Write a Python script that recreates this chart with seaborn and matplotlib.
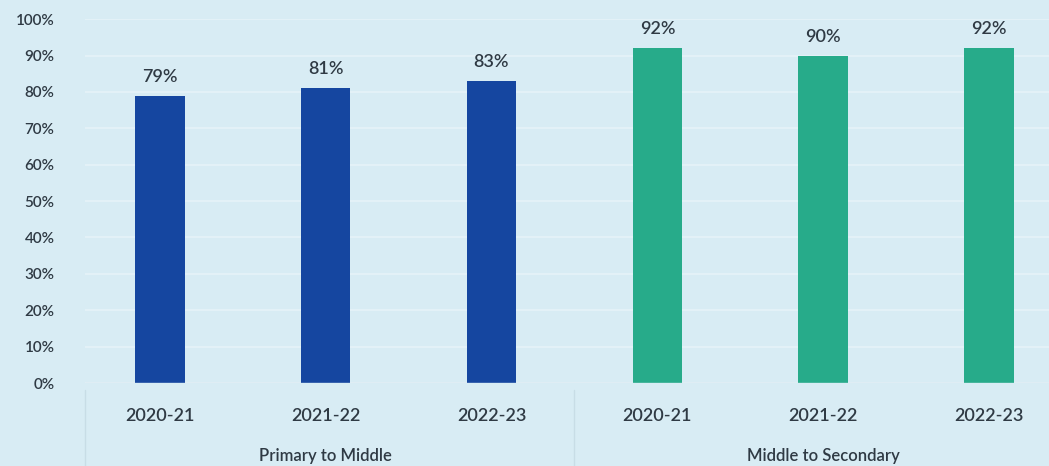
import seaborn as sns
import pandas as pd
import matplotlib.pyplot as plt
import matplotlib.transforms as mtransforms

years = ['2020-21', '2021-22', '2022-23']
groups = ['Primary to Middle', 'Middle to Secondary']
primary_to_middle = [79, 81, 83]
middle_to_secondary = [92, 90, 92]
y_ticks = [0, 10, 20, 30, 40, 50, 60, 70, 80, 90, 100]

bg = '#d8ecf4'
text_color = '#2f3a44'
colors = {'Primary to Middle': '#1546a0', 'Middle to Secondary': '#27ab8a'}

df = pd.DataFrame({
    'group': [groups[0]] * 3 + [groups[1]] * 3,
    'year': years * 2,
    'value': primary_to_middle + middle_to_secondary,
})
df['slot'] = df['group'] + ' ' + df['year']

sns.set_style('white')
plt.rcParams['font.family'] = ['Lato', 'DejaVu Sans']

fig = plt.figure(figsize=(10.49, 4.66), dpi=100, facecolor=bg)
ax = fig.add_axes([0.081, 0.178, 0.919, 0.781])
ax.set_facecolor(bg)

sns.barplot(data=df, x='slot', y='value', hue='group', palette=colors,
            dodge=False, width=0.3, legend=False, ax=ax, order=list(df['slot']),
            saturation=1, linewidth=0)

ax.set_ylim(0, 100)
ax.set_xlim(-0.45, 5.36)
ax.set_yticks(y_ticks)
ax.set_yticklabels([f'{t}%' for t in y_ticks], fontsize=11, color=text_color,
                   fontweight='semibold')
ax.set_xticks(range(len(df)))
ax.set_xticklabels(df['year'], fontsize=13, color=text_color, fontweight='semibold')
ax.tick_params(axis='x', length=0, pad=18)
ax.tick_params(axis='y', length=0, pad=22)
ax.set_xlabel('')
ax.set_ylabel('')
ax.set_axisbelow(True)
ax.grid(axis='y', color='#e6f3f8', linewidth=1.2)
for s in ax.spines.values():
    s.set_visible(False)
ax.axhline(0, color='#cfe0e8', linewidth=1)

# value labels
for i, v in enumerate(df['value']):
    ax.text(i, v + 3, f'{v}%', ha='center', va='bottom', fontsize=13,
            color=text_color, fontweight='semibold')

# group labels and separators
trans = mtransforms.blended_transform_factory(ax.transData, ax.transAxes)
for k, g in enumerate(groups):
    ax.text(k * 3 + 1, -0.2, g, transform=trans, ha='center', va='center',
            fontsize=12, color=text_color, fontweight='semibold', clip_on=False)
for xs in [-0.45, 2.5]:
    ax.plot([xs, xs], [-0.02, -0.3], transform=trans, color='#c8dde6',
            linewidth=1, clip_on=False)

fig.savefig('out.png', dpi=100, facecolor=bg)
